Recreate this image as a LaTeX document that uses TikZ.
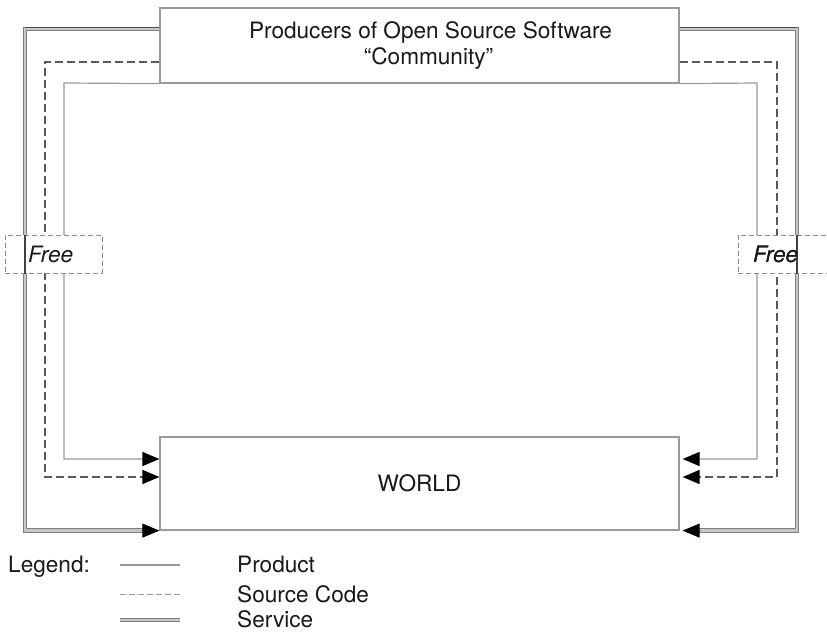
\documentclass[tikz,border=0pt]{standalone}
\usepackage{fontspec}
\setmainfont{TeX Gyre Heros}
\usetikzlibrary{arrows.meta}
\tikzset{
  x=1pt, y=-1pt,
  every node/.style={font=\fontsize{22.6}{27}\selectfont, text=black!90},
  bigbox/.style={draw=black!40, line width=1.2pt, fill=white, minimum width=519pt, inner sep=0pt, align=center},
  product/.style={draw=black!40, line width=1.2pt},
  source/.style={draw=black!65, line width=1.3pt, dash pattern=on 8pt off 4pt},
  service/.style={draw=black!50, line width=1pt, double=black!22, double distance=2.4pt},
  tip/.style={-{Triangle[length=17pt,width=14pt,color=black]}},
  tiponly/.style={draw=black!40, line width=1pt, -{Triangle[length=17pt,width=14pt,color=black]}},
  freebox/.style={draw=black!45, line width=1pt, dash pattern=on 5pt off 3pt, fill=white, minimum height=38pt, inner ysep=0pt, align=left, font=\fontsize{22.6}{25}\selectfont\itshape},
}
\begin{document}
\begin{tikzpicture}
\useasboundingbox (0,0) rectangle (827,632);
\clip (0,0) rectangle (827,632);
\fill[white] (0,0) rectangle (827,632);

% boxes
\node[bigbox, minimum height=75pt] (prod) at (419.5,45.5) {\hspace*{22pt}Producers of Open Source Software\\[-1pt]\hspace*{18pt}\textquotedblleft Community\textquotedblright};
\node[bigbox, minimum height=93pt] (world) at (419.5,483.5) {WORLD};

% corner coordinates
\coordinate (sL) at (25,29);   \coordinate (sR) at (797,29);
\coordinate (cL) at (45,62);   \coordinate (cR) at (777,62);
\coordinate (pL) at (64,83);   \coordinate (pR) at (757,83);

% service (double)
\draw[service] (prod.west |- sL) -- (sL) -- (sL |- world.south west) -- ([xshift=-10pt]world.south west);
\draw[service] (prod.east |- sR) -- (sR) -- (sR |- world.south east) -- ([xshift=12pt]world.south east);
\draw[black!70, line width=1.3pt] ([yshift=1.7pt]prod.west |- sL) -- ([yshift=1.7pt]sL);
\draw[black!70, line width=1.3pt] ([yshift=1.7pt]prod.east |- sR) -- ([yshift=1.7pt]sR);
\draw[tiponly] ([xshift=-18pt]world.south west) -- (world.south west);
\draw[tiponly] ([xshift=21pt]world.south east) -- ([xshift=3pt]world.south east);

% source code (dashed)
\draw[source, tip] (prod.west |- cL) -- (cL) -- (cL |- 0,477) -- (world.west |- 0,477);
\draw[source, tip] (prod.east |- cR) -- (cR) -- (cR |- 0,477) -- ([xshift=3pt]world.east |- 0,477);

% product (solid)
\draw[product, tip] (prod.south west) -- (pL) -- (pL |- 0,459) -- (world.west |- 0,459);
\draw[product, tip] (prod.south east) -- (pR) -- (pR |- 0,459) -- ([xshift=3pt]world.east |- 0,459);

% Free boxes
\node[freebox, text width=51pt, inner xsep=23pt] (freeL) at (53.5,254) {Free};
\node[freebox, text width=67pt, inner xsep=15pt] (freeR) at (786.5,254) {Free};
\draw[black!75, line width=2.2pt] (freeL.north -| sL) -- (freeL.south -| sL);
\draw[black!75, line width=2.2pt] (freeR.north -| sR) -- (freeR.south -| sR);
\node[freebox, draw=none, fill=none, text width=67pt, inner xsep=15pt] (freeRt) at (786.5,254) {Free};

% legend
\node[anchor=west, inner sep=0pt] (leg) at (8,567) {Legend:};
\coordinate (l1a) at (120,565); \coordinate (l1b) at (180,565);
\coordinate (l2a) at (120,594); \coordinate (l2b) at (180,594);
\coordinate (l3a) at (120,620); \coordinate (l3b) at (180,620);
\draw[product] (l1a) -- (l1b);
\draw[source, draw=black!40, line width=1pt, dash pattern=on 6pt off 3pt] (l2a) -- (l2b);
\draw[service] (l3a) -- (l3b);
\node[anchor=west, inner sep=0pt] (lt1) at (237,564) {Product};
\node[anchor=west, inner sep=0pt] (lt2) at (237,594) {Source Code};
\node[anchor=west, inner sep=0pt] (lt3) at (237,619) {Service};
\end{tikzpicture}
\end{document}
